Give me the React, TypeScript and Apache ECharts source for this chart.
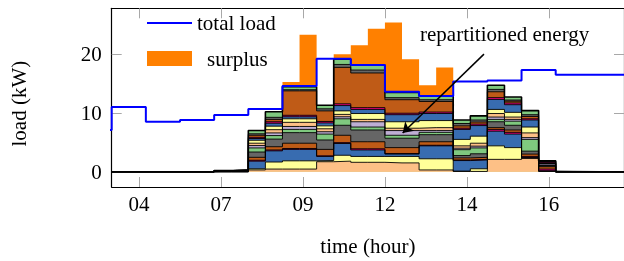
import { useEffect, useRef } from "react";
import * as echarts from "echarts";

const FONT = '"Liberation Serif", "Times New Roman", serif';
const FS = 21;

// x axis (hours)
const xMin = 4;
const xMax = 19;
const xTickValues = [4.8, 7.2, 9.6, 12.0, 14.4, 16.8];
const xTickLabels = ["04", "07", "09", "12", "14", "16"];
const yTickValues = [0, 10, 20];

// half-hour bins of the repartitioned energy (start hour)
const binStarts = [7.0, 7.5, 8.0, 8.5, 9.0, 9.5, 10.0, 10.5, 11.0, 11.5, 12.0, 12.5, 13.0, 13.5, 14.0, 14.5, 15.0, 15.5, 16.0, 16.5];
const binsEnd = 17;

// per-household repartitioned energy (kW), bottom to top
const hh01 = [0, 0, 0.3, 0.45, 0.45, 0.45, 1.7, 1.8, 1.6, 1.6, 1.5, 1.5, 0.3, 0.3, 0.05, 0.05, 2.1, 2.1, 2.3, 0.05];
const hh02 = [0, 0, 0.2, 1.2, 1.4, 1.4, 0.2, 1.0, 1.0, 1.0, 1.1, 1.1, 1.9, 1.9, 0.05, 0.45, 2.3, 2.0, 0, 0.05];
const hh03 = [0, 0, 1.3, 1.9, 1.95, 1.95, 0.7, 2.0, 1.1, 1.1, 0.4, 0.4, 2.2, 2.2, 1.8, 1.5, 2.5, 2.3, 0.1, 0.05];
const hh04 = [0, 0, 0.15, 0.15, 0.15, 0.15, 0.1, 0.15, 0.2, 0.2, 0.1, 0.1, 0.1, 0.1, 0.1, 0.1, 0.3, 0.3, 0.2, 0.3];
const hh05 = [0.1, 0.15, 0.5, 0.55, 0.9, 0.9, 1.1, 1.25, 1.2, 1.2, 1.0, 1.0, 0.6, 0.6, 0.35, 0.35, 0.3, 0.4, 0.4, 0.4];
const hh06 = [0.1, 0.1, 0.9, 1.3, 1.8, 1.8, 1.6, 1.7, 2.0, 2.0, 1.6, 1.6, 1.2, 1.2, 0.4, 0.6, 1.0, 0.8, 0.5, 0.15];
const hh07 = [0, 0, 0.7, 0.6, 0.55, 0.55, 1.0, 1.1, 0.5, 0.5, 0.5, 0.5, 0.4, 0.4, 1.0, 1.0, 0.4, 0.7, 2.0, 0.05];
const hh08 = [0, 0, 0.4, 0.45, 0.5, 0.5, 0.4, 0.35, 0.9, 0.9, 0.8, 0.8, 0.3, 0.3, 0.25, 0.3, 0.4, 0.3, 0.3, 0.25];
const hh09 = [0, 0, 0.4, 0.55, 0.7, 0.7, 0.5, 0.4, 0.4, 0.4, 0.4, 0.4, 0.5, 0.5, 0.4, 0.5, 0.6, 0.4, 0.8, 0.1];
const hh10 = [0, 0, 0.5, 0.6, 0.6, 0.6, 0.5, 0.6, 1.0, 1.0, 1.1, 1.1, 1.2, 1.2, 1.1, 1.2, 0.7, 0.8, 1.0, 0.05];
const hh11 = [0, 0, 0.3, 0.5, 0.35, 0.35, 0.5, 0.9, 0.7, 0.7, 1.2, 1.2, 1.2, 1.2, 1.7, 1.8, 1.7, 1.3, 1.2, 0.05];
const hh12 = [0, 0, 0.2, 0.25, 0.25, 0.25, 0.25, 0.3, 0.3, 0.3, 0.25, 0.25, 0.25, 0.25, 0.2, 0.25, 0.3, 0.3, 0.2, 0.15];
const hh13 = [0, 0, 0.35, 0.4, 4.15, 4.15, 1.8, 6.2, 5.9, 5.9, 2.3, 2.3, 1.8, 1.8, 0.4, 0.35, 1.0, 0.3, 0.4, 0.1];
const hh14 = [0, 0, 0.25, 0.35, 0.2, 0.2, 0.35, 0.5, 0.5, 0.5, 0.35, 0.35, 0.3, 0.3, 0.4, 0.35, 0.4, 0.2, 0.3, 0.1];
const hh15 = [0, 0, 0.55, 0.95, 0.5, 0.5, 0.6, 0.9, 0.85, 0.85, 0.9, 0.9, 0.6, 0.6, 0.6, 0.7, 0.7, 0.5, 0.7, 0];
const households = [hh01, hh02, hh03, hh04, hh05, hh06, hh07, hh08, hh09, hh10, hh11, hh12, hh13, hh14, hh15];
const householdColors = ["#fdc086", "#ffff99", "#386cb0", "#f0027f", "#bf5b17", "#666666", "#7fc97f", "#beaed4"];

// surplus (kW level, half-hour bins)
const surplusStarts = [9.0, 9.5, 10.0, 10.5, 11.0, 11.5, 12.0, 12.5, 13.0, 13.5];
const surplusKW = [15.25, 23.3, 0, 20.0, 21.5, 24.3, 25.4, 19.15, 14.7, 17.75];
const surplusEnd = 14;

// total load (hourly steps)
const loadHours = [3, 4, 5, 6, 7, 8, 9, 10, 11, 12, 13, 14, 15, 16, 17, 19];
const loadKW = [7.1, 11.0, 8.5, 8.8, 9.65, 10.65, 14.6, 19.2, 18.15, 13.6, 12.9, 15.35, 15.5, 17.3, 16.5, 16.5];

// annotation arrow (hour, kW)
const arrowFrom = [14.9, 20.0];
const arrowTo = [12.52, 6.6];

function stepPoints(starts: number[], vals: number[], end: number) {
  const pts: number[][] = [[xMin, 0]];
  starts.forEach((x, i) => pts.push([x, vals[i]]));
  pts.push([end, 0]);
  pts.push([xMax, 0]);
  return pts;
}

export default function App() {
  const ref = useRef<HTMLDivElement>(null);
  useEffect(() => {
    if (!ref.current) return;
    const chart = echarts.init(ref.current, null, { renderer: "svg" });

    const cumulative: number[][] = [];
    households.forEach((hh, k) => {
      cumulative.push(hh.map((v, i) => v + (k > 0 ? cumulative[k - 1][i] : 0)));
    });

    const series: any[] = [];
    series.push({
      name: "surplus",
      type: "line",
      step: "end",
      symbol: "none",
      color: "#ff8000",
      data: stepPoints(surplusStarts, surplusKW, surplusEnd),
      lineStyle: { width: 0, opacity: 0 },
      areaStyle: { color: "#ff8000", opacity: 1 },
      silent: true,
      z: 2,
    });
    for (let k = cumulative.length - 1; k >= 0; k--) {
      series.push({
        name: "hh area " + (k + 1),
        type: "line",
        step: "end",
        symbol: "none",
        data: stepPoints(binStarts, cumulative[k], binsEnd),
        lineStyle: { width: 0, opacity: 0 },
        areaStyle: { color: householdColors[k % householdColors.length], opacity: 1 },
        silent: true,
        z: 2,
      });
    }
    for (let k = 0; k < cumulative.length; k++) {
      series.push({
        name: "hh line " + (k + 1),
        type: "line",
        step: "end",
        symbol: "none",
        data: stepPoints(binStarts, cumulative[k], binsEnd),
        lineStyle: { color: "#000", width: k === cumulative.length - 1 ? 1.6 : 0.9 },
        silent: true,
        z: 2,
      });
    }
    series.push({
      name: "total load",
      type: "line",
      step: "end",
      symbol: "none",
      color: "#0000ff",
      data: loadHours.map((h, i) => [h, loadKW[i]]),
      lineStyle: { color: "#0000ff", width: 2 },
      z: 3,
      markLine: {
        silent: true,
        symbol: ["none", "arrow"],
        symbolSize: 10,
        label: { show: false },
        lineStyle: { color: "#000", width: 1.5, type: "solid" },
        data: [[{ coord: arrowFrom }, { coord: arrowTo }]],
      },
    });

    const tickStyle = { color: "#a8a8a8", width: 1 };
    const axisLineStyle = { color: "#000", width: 1.2 };
    const labelFont = { fontFamily: FONT, fontSize: FS, color: "#000" };

    chart.setOption({
      animation: false,
      grid: { left: 111.7, right: -4, top: 8.3, bottom: 71 },
      legend: {
        orient: "vertical",
        left: 147,
        top: 12.5,
        padding: 0,
        itemWidth: 45,
        itemHeight: 15,
        itemGap: 14.5,
        textStyle: { ...labelFont },
        data: [
          { name: "total load", icon: "path://M0,0L45,0L45,2.2L0,2.2Z" },
          { name: "surplus", icon: "rect", textStyle: { padding: [0, 0, 0, 10] } },
        ],
      },
      xAxis: [
        {
          type: "value",
          min: xMin,
          max: xMax,
          position: "bottom",
          axisLine: { show: true, onZero: false, lineStyle: axisLineStyle },
          axisTick: { show: true, inside: true, length: 10, customValues: xTickValues, lineStyle: tickStyle },
          axisLabel: {
            ...labelFont,
            margin: 6,
            customValues: xTickValues,
            formatter: (v: number) => {
              const i = xTickValues.findIndex((t) => Math.abs(t - v) < 1e-6);
              return i >= 0 ? xTickLabels[i] : "";
            },
          },
          splitLine: { show: false },
          name: "time (hour)",
          nameLocation: "middle",
          nameGap: 48,
          nameTextStyle: { ...labelFont },
        },
        {
          type: "value",
          min: xMin,
          max: xMax,
          position: "top",
          axisLine: { show: true, onZero: false, lineStyle: axisLineStyle },
          axisTick: { show: true, inside: true, length: 10, customValues: xTickValues, lineStyle: tickStyle },
          axisLabel: { show: false },
          splitLine: { show: false },
        },
      ],
      yAxis: [
        {
          type: "value",
          min: -2.6,
          max: 27.8,
          position: "left",
          axisLine: { show: true, onZero: false, lineStyle: axisLineStyle },
          axisTick: { show: true, inside: true, length: 10, customValues: yTickValues, lineStyle: tickStyle },
          axisLabel: { ...labelFont, margin: 10, customValues: yTickValues },
          splitLine: { show: false },
          name: "load (kW)",
          nameLocation: "middle",
          nameRotate: 90,
          nameGap: 82,
          nameTextStyle: { ...labelFont, padding: [0, 12, 0, 0] },
        },
        {
          type: "value",
          min: -2.6,
          max: 27.8,
          position: "right",
          axisLine: { show: true, onZero: false, lineStyle: axisLineStyle },
          axisTick: { show: true, inside: true, length: 10, customValues: yTickValues, lineStyle: tickStyle },
          axisLabel: { show: false },
          splitLine: { show: false },
        },
      ],
      graphic: [
        {
          type: "text",
          left: 420,
          top: 23,
          silent: true,
          style: { text: "repartitioned energy", font: FS + 'px "Liberation Serif", serif', fill: "#000" },
        },
      ],
      series,
    });
    return () => chart.dispose();
  }, []);
  return <div ref={ref} style={{ position: "fixed", left: 0, top: 0, width: 624, height: 261 }} />;
}
